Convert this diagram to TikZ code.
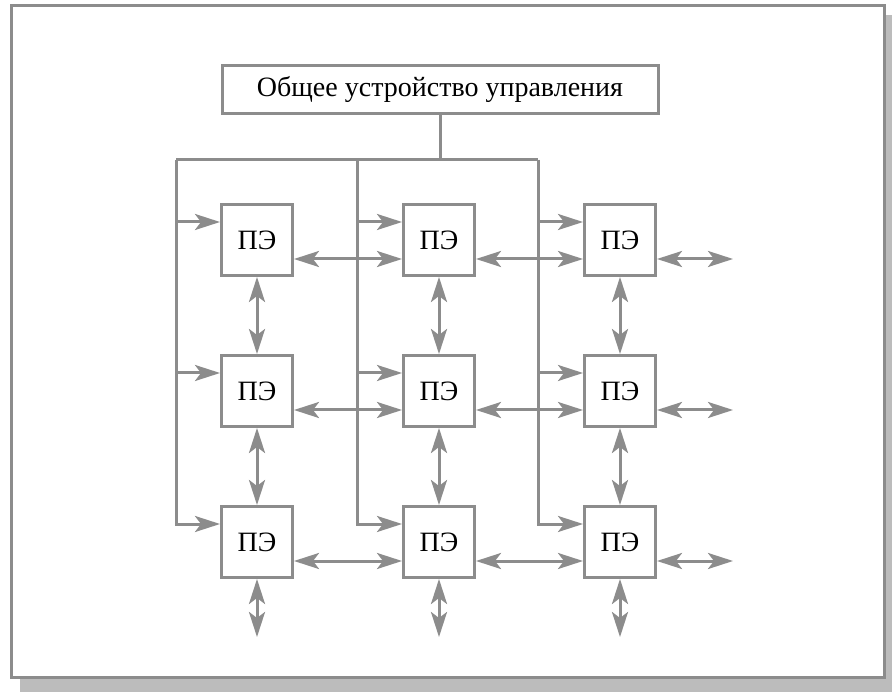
\documentclass[tikz,border=0pt]{standalone}
\usepackage{fontspec}
\setmainfont{Liberation Serif}
\usetikzlibrary{arrows.meta}
\definecolor{linegray}{RGB}{140,140,140}
\definecolor{shadowgray}{RGB}{188,188,188}

\begin{document}
\begin{tikzpicture}
      [ x = 1pt, y = -1pt
      , frame/.style =
        { draw = linegray, fill = white, line width = 3pt }
      , unit/.style =
        { draw = linegray, fill = white, line width = 3pt, inner sep = 0pt
        , font = \fontsize{28}{32}\selectfont }
      , pe/.style =
        { unit, minimum size = 71pt }
      , bus/.style =
        { draw = linegray, line width = 3pt }
      , ctrl/.style =
        { bus, -{Stealth[length = 25pt, width = 16pt, inset = 6pt]} }
      , link/.style =
        { bus, {Stealth[length = 25pt, width = 16pt, inset = 6pt]}-{Stealth[length = 25pt, width = 16pt, inset = 6pt]} }
      ]
      \useasboundingbox (0, 0) rectangle (892, 692);
      \fill [shadowgray] (20, 15) rectangle (892, 692);
      \path [frame] (11, 6) rectangle (884, 677);
      \node [unit, minimum width = 436pt, minimum height = 48pt] (cu) at (440, 90) {Общее устройство управления};
      \node [pe] (pe11) at (257, 240) {ПЭ};
      \node [pe] (pe12) at (439, 240) {ПЭ};
      \node [pe] (pe13) at (620, 240) {ПЭ};
      \node [pe] (pe21) at (257, 391) {ПЭ};
      \node [pe] (pe22) at (439, 391) {ПЭ};
      \node [pe] (pe23) at (620, 391) {ПЭ};
      \node [pe] (pe31) at (257, 542) {ПЭ};
      \node [pe] (pe32) at (439, 542) {ПЭ};
      \node [pe] (pe33) at (620, 542) {ПЭ};
      \coordinate (hub) at (440, 160);
      \coordinate (b1) at (176, 160);
      \coordinate (b2) at (357, 160);
      \coordinate (b3) at (538, 160);
      \coordinate (e1) at ([xshift = 76pt, yshift = -19pt]pe13.east);
      \coordinate (e2) at ([xshift = 76pt, yshift = -19pt]pe23.east);
      \coordinate (e3) at ([xshift = 76pt, yshift = -19pt]pe33.east);
      \coordinate (s1) at ([yshift = -58pt]pe31.south);
      \coordinate (s2) at ([yshift = -58pt]pe32.south);
      \coordinate (s3) at ([yshift = -58pt]pe33.south);
      \draw [bus] (cu.south) to (hub);
      \draw [bus] (b1) to (b3);
      \draw [ctrl] (b1) |- ([yshift = 18pt]pe11.west);
      \draw [ctrl] (b1) |- ([yshift = 18pt]pe21.west);
      \draw [ctrl] (b1) |- ([yshift = 18pt]pe31.west);
      \draw [ctrl] (b2) |- ([yshift = 18pt]pe12.west);
      \draw [ctrl] (b2) |- ([yshift = 18pt]pe22.west);
      \draw [ctrl] (b2) |- ([yshift = 18pt]pe32.west);
      \draw [ctrl] (b3) |- ([yshift = 18pt]pe13.west);
      \draw [ctrl] (b3) |- ([yshift = 18pt]pe23.west);
      \draw [ctrl] (b3) |- ([yshift = 18pt]pe33.west);
      \draw [link] ([yshift = -19pt]pe11.east) to ([yshift = -19pt]pe12.west);
      \draw [link] ([yshift = -19pt]pe12.east) to ([yshift = -19pt]pe13.west);
      \draw [link] ([yshift = -19pt]pe13.east) to (e1);
      \draw [link] ([yshift = -19pt]pe21.east) to ([yshift = -19pt]pe22.west);
      \draw [link] ([yshift = -19pt]pe22.east) to ([yshift = -19pt]pe23.west);
      \draw [link] ([yshift = -19pt]pe23.east) to (e2);
      \draw [link] ([yshift = -19pt]pe31.east) to ([yshift = -19pt]pe32.west);
      \draw [link] ([yshift = -19pt]pe32.east) to ([yshift = -19pt]pe33.west);
      \draw [link] ([yshift = -19pt]pe33.east) to (e3);
      \draw [link] (pe11.south) to (pe21.north);
      \draw [link] (pe21.south) to (pe31.north);
      \draw [link] (pe31.south) to (s1);
      \draw [link] (pe12.south) to (pe22.north);
      \draw [link] (pe22.south) to (pe32.north);
      \draw [link] (pe32.south) to (s2);
      \draw [link] (pe13.south) to (pe23.north);
      \draw [link] (pe23.south) to (pe33.north);
      \draw [link] (pe33.south) to (s3);
    \end{tikzpicture}
\end{document}
